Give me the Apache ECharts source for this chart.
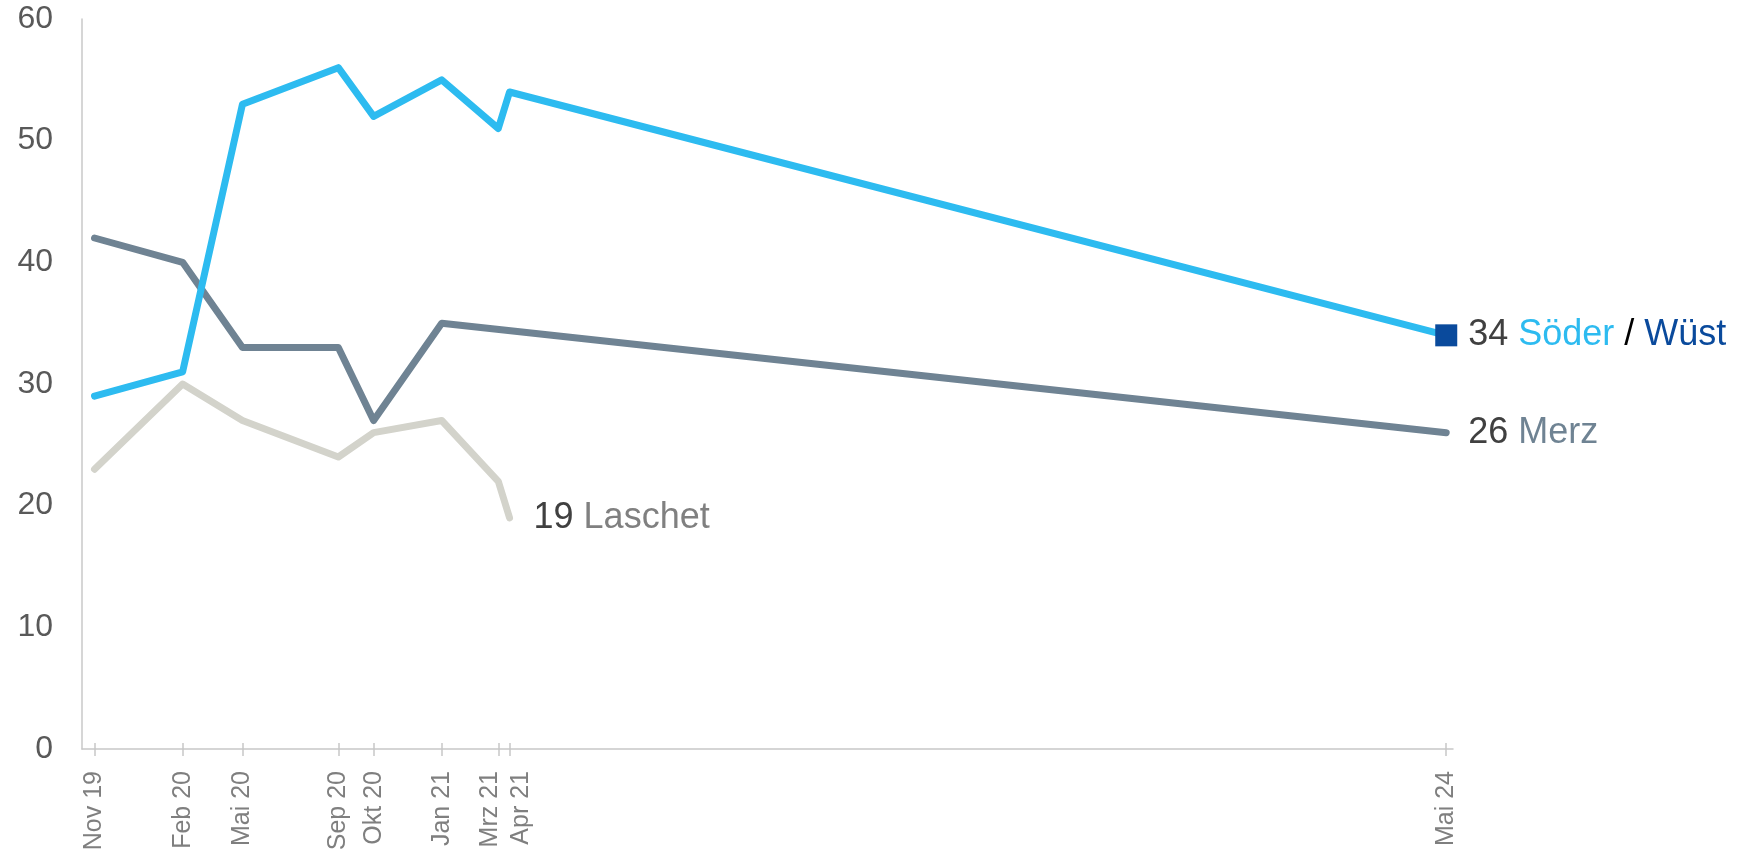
<!DOCTYPE html>
<html>
<head>
<meta charset="utf-8">
<title>Söder / Merz / Laschet</title>
<script src="https://cdn.jsdelivr.net/npm/echarts@6/dist/echarts.min.js"></script>
<style>
  html, body { margin: 0; padding: 0; background: #fff; }
  #chart { width: 1744px; height: 854px; }
</style>
</head>
<body>
<div id="chart"></div>
<script>
// Umfragezeitpunkte (Monate nach Nov 19, aus dem Bild geschätzt)
const dateLabels = ['Nov 19', 'Feb 20', 'Mai 20', 'Sep 20', 'Okt 20', 'Jan 21', 'Mrz 21', 'Apr 21', 'Mai 24']
const monthPos = [0, 3.52, 5.91, 9.74, 11.15, 13.87, 16.13, 16.58, 54]

// Werte in Prozent, null = nicht abgefragt
const soeder = [29, 31, 53, 56, 52, 55, 51, 54, 34]
const merz = [42, 40, 33, 33, 27, 35, null, null, 26]
const laschet = [23, 30, 27, 24, 26, 27, 22, 19, null]
const wuest = [null, null, null, null, null, null, null, null, 34]

const yTicks = [0, 10, 20, 30, 40, 50, 60]

const toPairs = arr => arr
  .map((v, i) => (v == null ? null : [monthPos[i], v]))
  .filter(p => p)

// Mrz 21 / Apr 21 liegen fast übereinander -> etwas auseinanderschieben
const labelFor = v => {
  const i = monthPos.findIndex(p => Math.abs(p - v) < 0.01)
  if (i < 0) return ''
  if (dateLabels[i] === 'Mrz 21') return '{l|' + dateLabels[i] + '}'
  if (dateLabels[i] === 'Apr 21') return '{r|' + dateLabels[i] + '}'
  return dateLabels[i]
}

const FONT = 'Liberation Sans'
const END_SIZE = 36

const chart = echarts.init(document.getElementById('chart'))

const lineBase = {
  type: 'line',
  symbol: 'none',
  silent: true,
  lineStyle: { width: 7, cap: 'round', join: 'round' }
}

// Beschriftung am Linienende: Wert dunkel, Name in Linienfarbe
const endText = color => ({
  v: { color: '#404040', fontSize: END_SIZE, fontFamily: FONT },
  n: { color, fontSize: END_SIZE, fontFamily: FONT }
})

const xLabelStyle = { color: '#7f7f7f', fontSize: 25, fontFamily: FONT }

chart.setOption({
  animation: false,
  grid: { left: 82, right: 291, top: 19, bottom: 105 },
  xAxis: [
    {
      type: 'value',
      min: -0.5,
      max: 54.27,
      splitLine: { show: false },
      axisLine: { show: true, onZero: false, lineStyle: { color: '#c8c8c8', width: 1.5 } },
      axisTick: {
        show: true,
        customValues: monthPos,
        length: 7,
        lineStyle: { color: '#c8c8c8', width: 1.5 }
      },
      axisLabel: {
        customValues: monthPos,
        rotate: 90,
        margin: 22,
        ...xLabelStyle,
        formatter: labelFor,
        rich: {
          l: { ...xLabelStyle, padding: [0, 0, 16, 0] },
          r: { ...xLabelStyle, padding: [23, 0, 0, 0] }
        }
      }
    },
    {
      type: 'value',
      position: 'bottom',
      min: -0.5,
      max: 54.27,
      splitLine: { show: false },
      axisLine: { show: false },
      axisTick: {
        show: true,
        inside: true,
        customValues: monthPos,
        length: 6,
        lineStyle: { color: '#c8c8c8', width: 1.5 }
      },
      axisLabel: { show: false }
    }
  ],
  yAxis: {
    type: 'value',
    min: 0,
    max: 60,
    interval: 10,
    splitLine: { show: false },
    axisTick: { show: false },
    axisLine: { show: true, onZero: false, lineStyle: { color: '#c8c8c8', width: 1.5 } },
    axisLabel: {
      margin: 29,
      color: '#595959',
      fontSize: 32,
      fontFamily: FONT,
      customValues: yTicks
    }
  },
  series: [
    {
      ...lineBase,
      name: 'Laschet',
      data: toPairs(laschet),
      lineStyle: { ...lineBase.lineStyle, color: '#d3d3cb' },
      endLabel: {
        show: true,
        distance: 24,
        fontSize: END_SIZE,
        formatter: '{v|19 }{n|Laschet}',
        rich: endText('#808080')
      }
    },
    {
      ...lineBase,
      name: 'Merz',
      data: toPairs(merz),
      lineStyle: { ...lineBase.lineStyle, color: '#6f8393' },
      endLabel: {
        show: true,
        distance: 22,
        fontSize: END_SIZE,
        formatter: '{v|26 }{n|Merz}',
        rich: endText('#6f8393')
      }
    },
    {
      ...lineBase,
      name: 'Söder',
      data: toPairs(soeder),
      lineStyle: { ...lineBase.lineStyle, color: '#2dbbf0' },
      endLabel: {
        show: true,
        distance: 22,
        fontSize: END_SIZE,
        formatter: '{v|34 }{n|Söder}{s| / }{w|Wüst}',
        rich: {
          ...endText('#2dbbf0'),
          s: { color: '#000000', fontSize: END_SIZE, fontFamily: FONT },
          w: { color: '#0a4a9c', fontSize: END_SIZE, fontFamily: FONT }
        }
      }
    },
    {
      type: 'scatter',
      name: 'Wüst',
      silent: true,
      z: 5,
      data: toPairs(wuest),
      symbol: 'rect',
      symbolSize: 22,
      itemStyle: { color: '#0a4a9c', opacity: 1 }
    }
  ]
})
</script>
</body>
</html>
